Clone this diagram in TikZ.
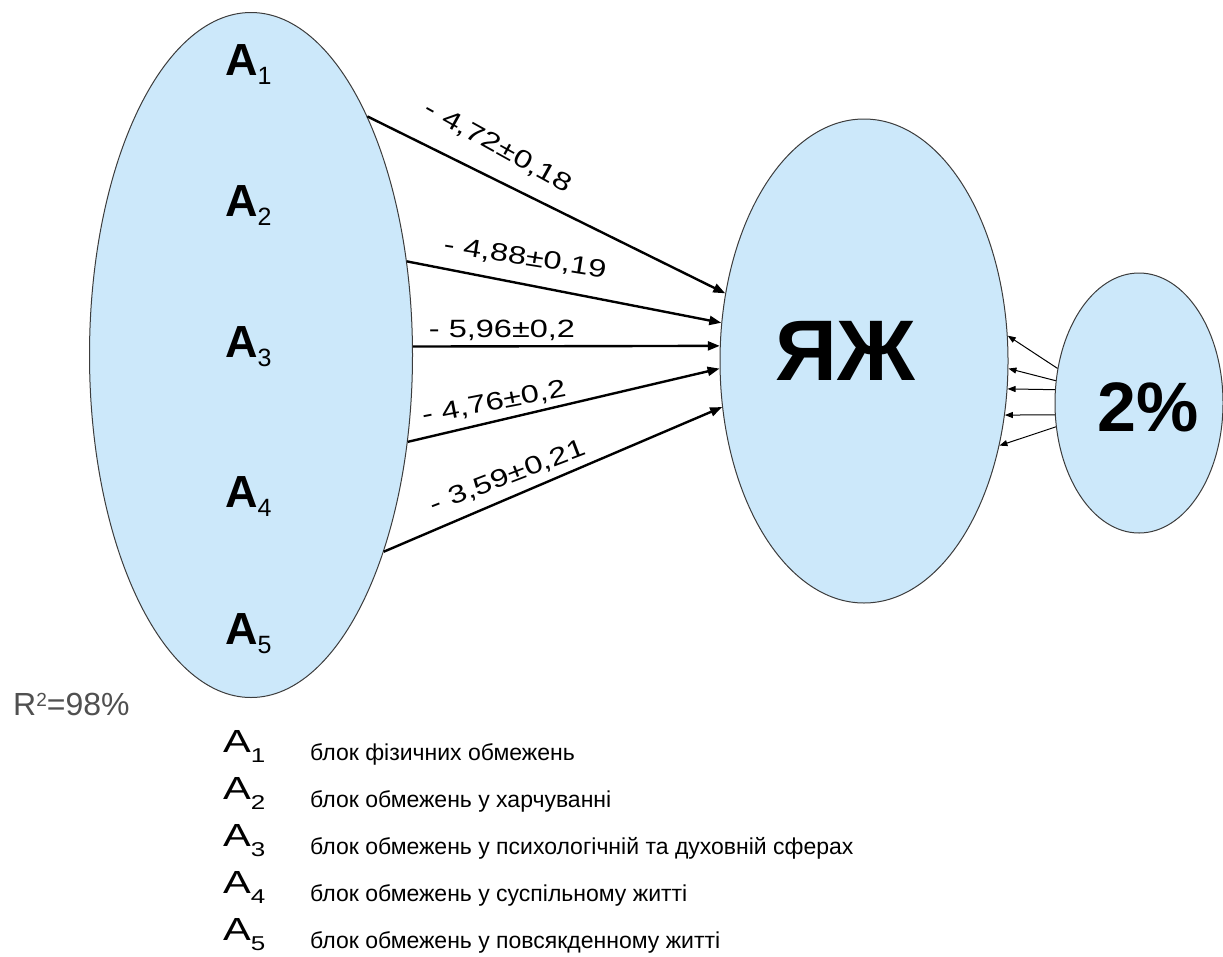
\documentclass[tikz,border=0pt]{standalone}
\usepackage{fontspec}
\setmainfont{Liberation Sans}
\newfontfamily\wideface[FakeStretch=1.3]{Liberation Sans}
\usetikzlibrary{arrows.meta,shapes.geometric}
\definecolor{blobfill}{RGB}{204,232,250}
\definecolor{blobrim}{RGB}{60,60,60}
\definecolor{rtext}{RGB}{80,80,80}
\newcommand\Aidx[1]{\textbf{A}\raisebox{-9pt}{\fontsize{25}{25}\selectfont #1}}
\newcommand\Akey[1]{A\raisebox{-10pt}{\fontsize{20}{20}\selectfont #1}}

\begin{document}
\begin{tikzpicture}[x=1pt,y=-1pt,>={Triangle[length=12pt,width=9pt]},
  blob/.style={ellipse,draw=blobrim,line width=1pt,fill=blobfill,inner sep=0pt},
  alab/.style={anchor=base west,inner sep=0pt,font=\fontsize{45}{45}\selectfont},
  coef/.style={font=\wideface\fontsize{25}{25}\selectfont,inner sep=0pt},
  keyA/.style={anchor=base west,inner sep=0pt,font=\wideface\fontsize{32}{32}\selectfont},
  key/.style={anchor=base west,inner sep=0pt,font=\fontsize{23}{23}\selectfont}]
\useasboundingbox (0,0) rectangle (1223,956);
% the three blocks
\node[blob,minimum width=323pt,minimum height=685pt] (L) at (251,355){};
\node[blob,minimum width=288pt,minimum height=484pt] (M) at (864,361){};
\node[blob,minimum width=168pt,minimum height=260pt] (R) at (1139,403){};
\node[alab] (a1) at (225,75){\Aidx{1}};\node[alab] (a2) at (225,216){\Aidx{2}};\node[alab] (a3) at (225,357){\Aidx{3}};
\node[alab] (a4) at (225,507){\Aidx{4}};\node[alab] (a5) at (225,644){\Aidx{5}};
\node[font=\bfseries\fontsize{86}{86}\selectfont,inner sep=0pt] (yz) at (845,351){ЯЖ};
\node[font=\bfseries\fontsize{70}{70}\selectfont,inner sep=0pt] (pc) at (1148,407){2\%};
% coefficients
\draw[->,line width=2.4pt] (L.64) -- (M.154);\node[coef,rotate=-29] (c1) at (498,147){- 4,72±0,18};
\draw[->,line width=2.4pt] (L.31) -- (M.165);\node[coef,rotate=-9] (c2) at (525,258){- 4,88±0,19};
\draw[->,line width=2.4pt] (L.3.5) -- (M.174);\node[coef] (c3) at (502,330){- 5,96±0,2};
\draw[->,line width=2.4pt] (L.-29) -- (M.183);\node[coef,rotate=11] (c4) at (494,403){- 4,76±0,2};
\draw[->,line width=2.4pt] (L.-56) -- (M.198);\node[coef,rotate=21] (c5) at (508,477){- 3,59±0,21};
% residual part
\begin{scope}[line width=1pt,>={Triangle[length=8pt,width=6pt]}]
\draw[->] (R.157) -- (M.10);\draw[->] (R.165) -- (M.-3);\draw[->] (R.171) -- (M.-11);
\draw[->] (R.188) -- (M.-21);\draw[->] (R.196) -- (M.-32);
\end{scope}
\node[anchor=base west,inner sep=0pt,text=rtext,font=\fontsize{32}{32}\selectfont] (r2) at (13,715){R\raisebox{9pt}{\fontsize{19}{19}\selectfont 2}=98\%};
% legend
\node[keyA] (k1) at (223,752){\Akey{1}};\node[key] (t1) at (310,760){блок фізичних обмежень};
\node[keyA] (k2) at (223,799){\Akey{2}};\node[key] (t2) at (310,807){блок обмежень у харчуванні};
\node[keyA] (k3) at (223,846){\Akey{3}};\node[key] (t3) at (310,854){блок обмежень у психологічній та духовній сферах};
\node[keyA] (k4) at (223,893){\Akey{4}};\node[key] (t4) at (310,901){блок обмежень у суспільному житті};
\node[keyA] (k5) at (223,940){\Akey{5}};\node[key] (t5) at (310,948){блок обмежень у повсякденному житті};
\end{tikzpicture}
\end{document}
